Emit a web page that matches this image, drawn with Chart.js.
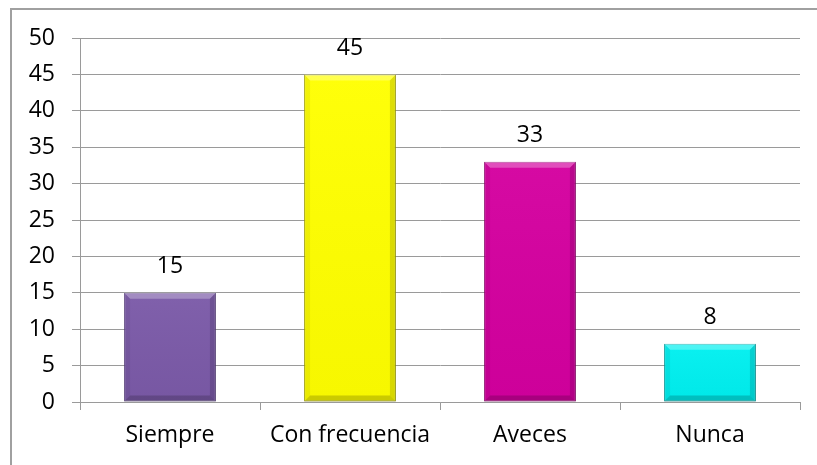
<!DOCTYPE html>
<html>
<head>
<meta charset="utf-8">
<script src="https://cdn.jsdelivr.net/npm/chart.js@4"></script>
<style>
  html, body { margin: 0; padding: 0; background: #fff; overflow: hidden; }
  #wrap { position: relative; width: 817px; height: 465px; }
  #frame {
    position: absolute; left: 10px; top: 8px; width: 900px; height: 600px;
    border-left: 2px solid #a0a0a0; border-top: 2px solid #a0a0a0;
  }
  #chart { position: absolute; left: 0; top: 0; }
</style>
</head>
<body>
<div id="wrap">
  <div id="frame"></div>
  <canvas id="chart" width="817" height="465"></canvas>
</div>
<script>
// Survey answers
const categories = ['Siempre', 'Con frecuencia', 'Aveces', 'Nunca'];
const values = [15, 45, 33, 8];

// Fill and outline for each bar
const barColors = ['#7b5aa8', '#ffff00', '#d4009f', '#00f0f0'];
const barBorders = ['#5a4080', '#a8a800', '#93006f', '#00a0a0'];

const FONT = { family: "'Open Sans', sans-serif", size: 23 };
const GRID = '#9a9a9a';

// Bevelled look on each bar, drawn over the plain fill
const bevelPlugin = {
  id: 'bevel',
  afterDatasetsDraw(chart) {
    const ctx = chart.ctx;
    const meta = chart.getDatasetMeta(0);
    meta.data.forEach((bar) => {
      const l = bar.x - bar.width / 2;
      const r = bar.x + bar.width / 2;
      const t = bar.y;
      const b = bar.base;
      const s = 6;
      const poly = (pts, fill) => {
        ctx.beginPath();
        ctx.moveTo(pts[0][0], pts[0][1]);
        pts.slice(1).forEach((p) => ctx.lineTo(p[0], p[1]));
        ctx.closePath();
        ctx.fillStyle = fill;
        ctx.fill();
      };
      ctx.save();
      // soft vertical shading of the face
      const g = ctx.createLinearGradient(0, t, 0, b);
      g.addColorStop(0, 'rgba(255,255,255,0.04)');
      g.addColorStop(1, 'rgba(0,0,0,0.03)');
      ctx.fillStyle = g;
      ctx.fillRect(l, t, r - l, b - t);
      poly([[l, t], [r, t], [r - s, t + s], [l + s, t + s]], 'rgba(255,255,255,0.28)');
      poly([[l, t], [l + s, t + s], [l + s, b - s], [l, b]], 'rgba(0,0,0,0.05)');
      poly([[r, t], [r, b], [r - s, b - s], [r - s, t + s]], 'rgba(0,0,0,0.13)');
      poly([[l, b], [l + s, b - s], [r - s, b - s], [r, b]], 'rgba(0,0,0,0.18)');
      ctx.restore();
    });
  },
};

// Value above each bar
const valueLabels = {
  id: 'valueLabels',
  afterDatasetsDraw(chart) {
    const ctx = chart.ctx;
    const meta = chart.getDatasetMeta(0);
    ctx.save();
    ctx.font = `${FONT.size}px ${FONT.family}`;
    ctx.fillStyle = '#000';
    ctx.textAlign = 'center';
    ctx.textBaseline = 'middle';
    meta.data.forEach((bar, i) => {
      ctx.fillText(values[i], bar.x, bar.y - 26);
    });
    ctx.restore();
  },
};

new Chart(document.getElementById('chart'), {
  type: 'bar',
  data: {
    labels: categories,
    datasets: [
      {
        data: values,
        backgroundColor: barColors,
        borderColor: barBorders,
        borderWidth: 1,
        borderSkipped: false,
        categoryPercentage: 1,
        barPercentage: 0.51,
      },
    ],
  },
  options: {
    responsive: false,
    animation: false,
    devicePixelRatio: 1,
    layout: { padding: { top: 38, right: 17, left: 0, bottom: 0 } },
    plugins: {
      legend: { display: false },
      tooltip: { enabled: false },
    },
    scales: {
      x: {
        offset: true,
        grid: { drawOnChartArea: false, tickLength: 8, color: GRID, offset: true },
        border: { color: GRID },
        ticks: { font: FONT, color: '#000', padding: 12 },
        afterFit: (s) => { s.height = 63; },
      },
      y: {
        min: 0,
        max: 50,
        ticks: { stepSize: 5, font: FONT, color: '#000', padding: 17 },
        grid: { color: GRID, tickLength: 8 },
        border: { color: GRID },
        afterFit: (s) => { s.width = 80; },
      },
    },
  },
  plugins: [bevelPlugin, valueLabels],
});
</script>
</body>
</html>
